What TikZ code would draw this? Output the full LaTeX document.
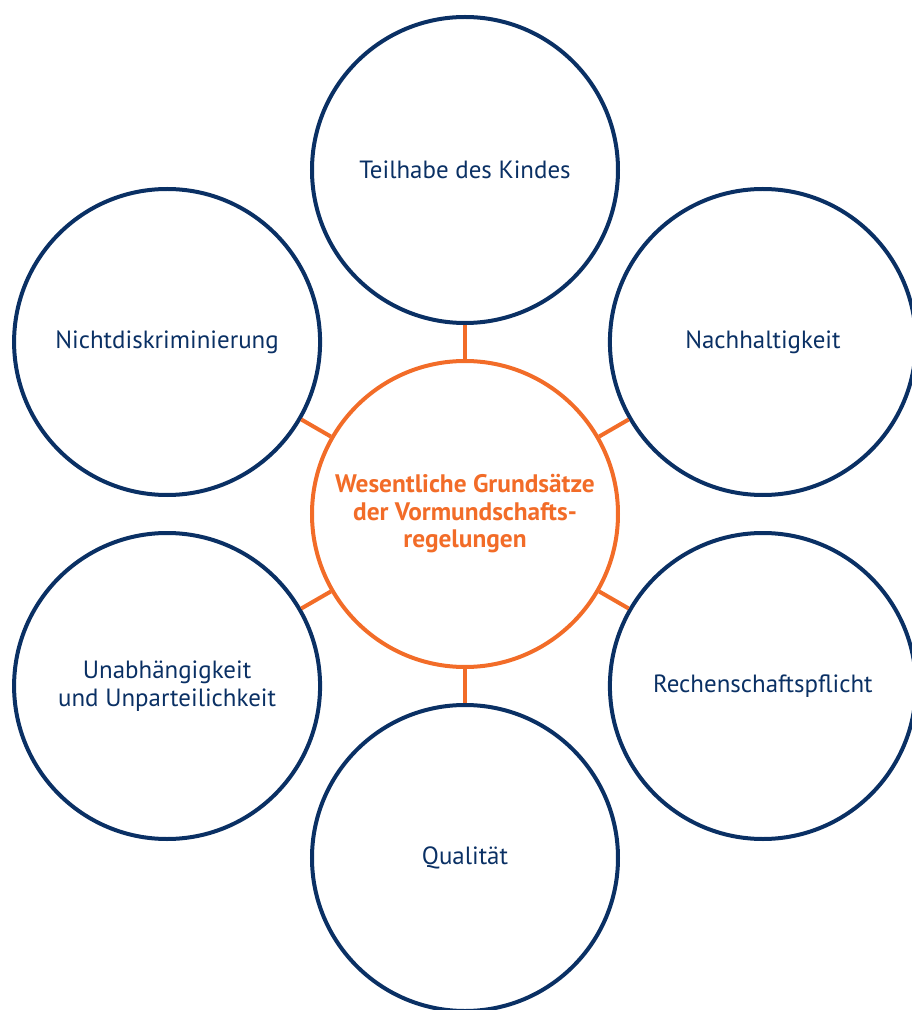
\documentclass[tikz,border=0pt]{standalone}
\usepackage{fontspec}
\setmainfont{PT Sans}
\usetikzlibrary{positioning}
\definecolor{navy}{RGB}{10,48,100}
\definecolor{signal}{RGB}{242,108,40}
\newcommand{\stddist}{258pt}
\newcommand{\stdsize}{229.5pt}

\begin{document}
\begin{tikzpicture}[
        principle/.style={circle, draw=navy, line width=3pt, minimum size=\stdsize,
            inner sep=0pt, align=center, text=navy, font=\fontsize{18.7}{21}\selectfont},
        hub/.style={principle, draw=signal, text=signal, font=\fontsize{19}{20.6}\selectfont\bfseries},
        link/.style={draw=signal, line width=3pt}
    ]
        \useasboundingbox (-348.75pt,-372pt) rectangle (334.5pt,385.5pt);
        \node[hub] (hub) at (0,0) {Wesentliche Grundsätze\\der Vormundschafts-\\regelungen};
        \node[principle] (teilhabe) at (90:\stddist) {Teilhabe des Kindes};
        \node[principle] (nachhaltigkeit) at (30:\stddist) {Nachhaltigkeit};
        \node[principle] (rechenschaft) at (-30:\stddist) {Rechenschaftspflicht};
        \node[principle] (qualitaet) at (-90:\stddist) {Qualität};
        \node[principle] (unabhaengigkeit) at (210:\stddist) {Unabhängigkeit\\und Unparteilichkeit};
        \node[principle] (diskriminierung) at (150:\stddist) {Nichtdiskriminierung};
        \foreach \n in {teilhabe, nachhaltigkeit, rechenschaft, qualitaet, unabhaengigkeit, diskriminierung}
            \draw[link] (hub) -- (\n);
    \end{tikzpicture}
\end{document}
